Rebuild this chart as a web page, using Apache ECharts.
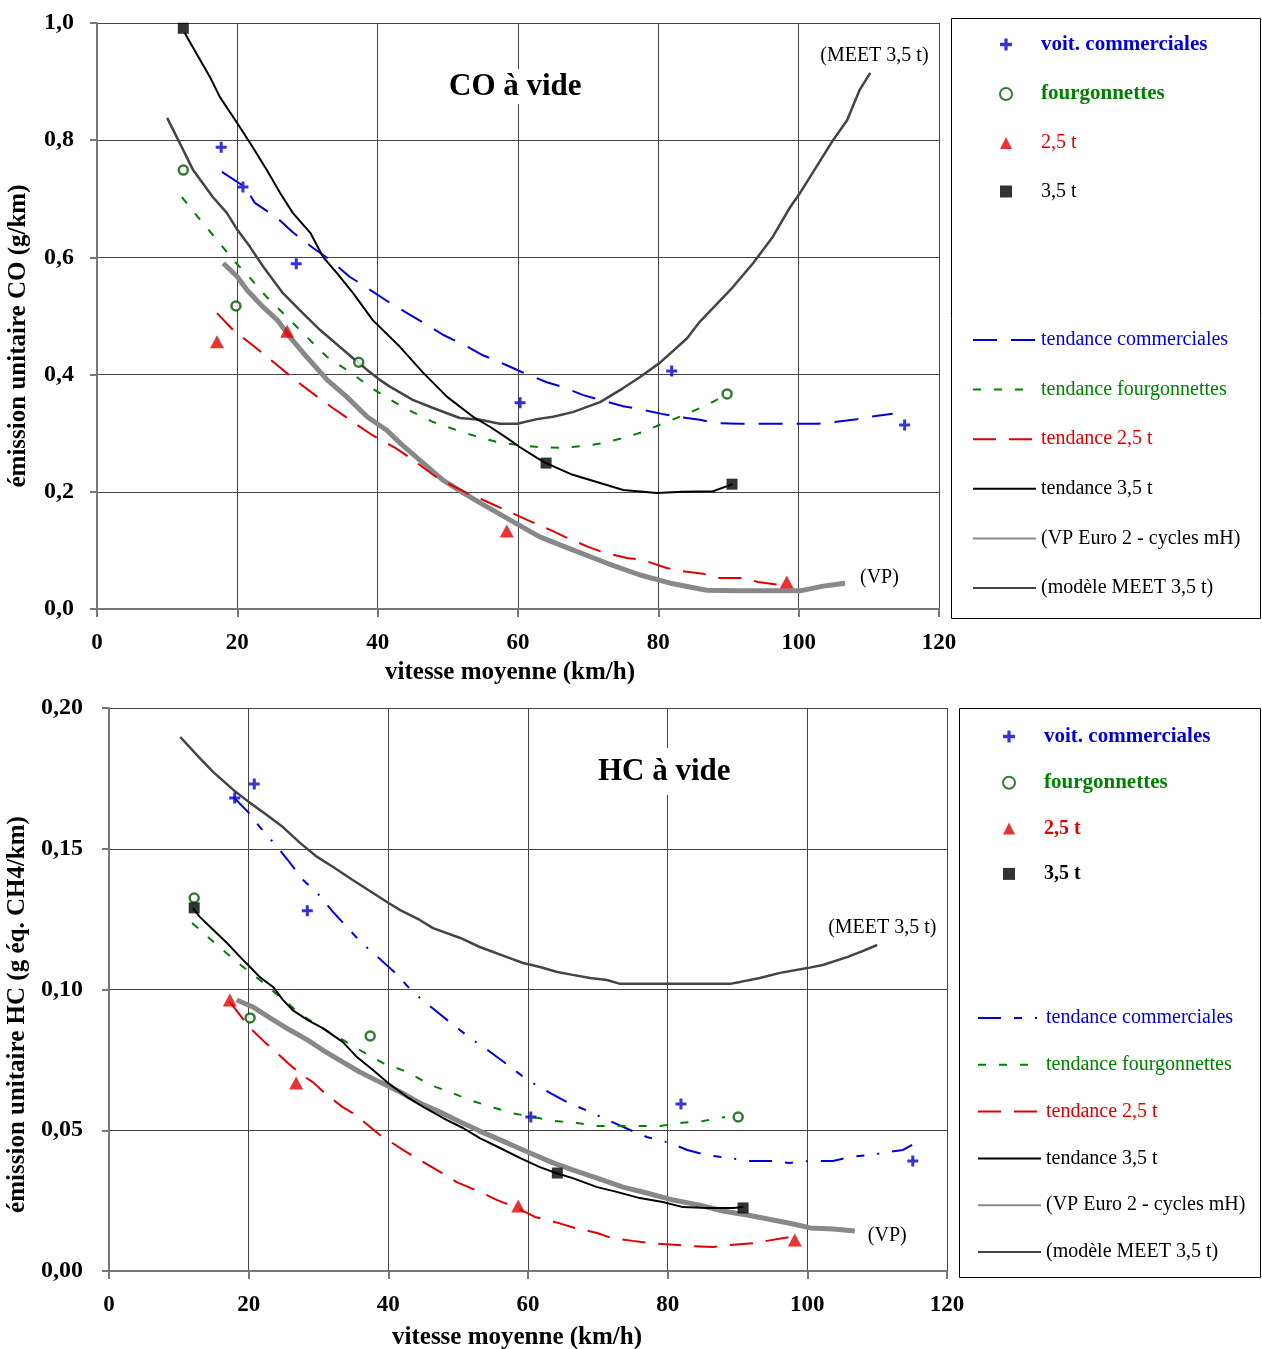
<!DOCTYPE html>
<html>
<head>
<meta charset="utf-8">
<script src="https://cdn.jsdelivr.net/npm/echarts@6/dist/echarts.min.js"></script>
<style>
  html, body { margin: 0; padding: 0; background: #fff; }
  #co { position: absolute; left: 0; top: 0; width: 1262px; height: 690px; }
  #hc { position: absolute; left: 0; top: 690px; width: 1262px; height: 659px; }
</style>
</head>
<body>
<div id="co"></div>
<div id="hc"></div>
<script>
  // ---- CO à vide : mesures (km/h, g/km)
  const coComPts = [[17.7, 0.788], [20.8, 0.72], [28.4, 0.589], [60.3, 0.352], [81.9, 0.406], [115.1, 0.314]]
  const coFourPts = [[12.3, 0.749], [19.8, 0.517], [37.3, 0.421], [89.8, 0.367]]
  const co25Pts = [[17.1, 0.456], [27.1, 0.474], [58.4, 0.133], [98.3, 0.046]]
  const co35Pts = [[12.3, 0.991], [64.0, 0.249], [90.5, 0.213]]

  // ---- CO à vide : tendances
  const coTrCom = [[17.8, 0.746], [21.1, 0.720], [22.5, 0.693], [25.7, 0.667], [27.9, 0.643], [30.8, 0.616], [33.2, 0.596], [36.0, 0.567], [38.5, 0.548], [41.8, 0.522], [44.2, 0.505], [47.0, 0.485], [49.3, 0.468], [52.9, 0.447], [55.0, 0.433], [58.4, 0.416], [60.6, 0.404], [64.1, 0.387], [66.3, 0.379], [69.3, 0.365], [71.7, 0.357], [75.0, 0.346], [77.4, 0.341], [80.5, 0.333], [82.7, 0.328], [85.9, 0.323], [88.4, 0.317], [91.6, 0.316], [102.6, 0.316], [104.9, 0.319], [108.3, 0.324], [110.2, 0.328], [113.4, 0.333]]
  const coTrFour = [[12.1, 0.703], [14.7, 0.664], [17.1, 0.630], [19.4, 0.596], [21.8, 0.565], [24.2, 0.532], [27.1, 0.498], [29.9, 0.464], [32.8, 0.430], [36.1, 0.404], [38.9, 0.379], [41.8, 0.357], [45.0, 0.336], [47.9, 0.319], [51.3, 0.305], [54.2, 0.294], [57.0, 0.285], [59.9, 0.280], [63.1, 0.276], [66.0, 0.275], [69.3, 0.278], [72.1, 0.283], [75.0, 0.292], [77.8, 0.302], [80.7, 0.317], [84.1, 0.333], [86.9, 0.348], [88.8, 0.360]]
  const coTr25 = [[17.1, 0.505], [19.4, 0.476], [22.5, 0.447], [25.7, 0.416], [27.9, 0.394], [31.4, 0.362], [33.6, 0.343], [37.1, 0.314], [39.2, 0.297], [42.5, 0.275], [44.6, 0.258], [47.9, 0.229], [49.9, 0.215], [52.7, 0.198], [55.6, 0.183], [59.1, 0.164], [61.3, 0.152], [64.6, 0.135], [66.7, 0.123], [70.0, 0.106], [72.1, 0.097], [75.5, 0.087], [77.7, 0.084], [81.2, 0.070], [83.1, 0.065], [86.4, 0.060], [88.5, 0.053], [92.1, 0.053], [94.2, 0.046], [97.3, 0.041]]
  const coTr35 = [[12.5, 0.983], [14.7, 0.937], [16.1, 0.908], [17.5, 0.874], [20.0, 0.829], [22.2, 0.788], [24.2, 0.749], [26.1, 0.710], [27.9, 0.676], [30.4, 0.642], [32.2, 0.601], [34.2, 0.573], [36.5, 0.539], [39.3, 0.493], [43.2, 0.447], [46.5, 0.403], [49.9, 0.362], [53.6, 0.328], [56.0, 0.311], [58.4, 0.292], [60.3, 0.276], [62.7, 0.258], [64.0, 0.249], [67.8, 0.229], [71.7, 0.215], [75.0, 0.203], [79.8, 0.198], [83.5, 0.200], [87.8, 0.201], [90.6, 0.213]]
  const coVP = [[18.0, 0.590], [20.0, 0.567], [21.4, 0.544], [23.7, 0.515], [25.7, 0.493], [27.5, 0.464], [29.9, 0.430], [32.8, 0.391], [35.6, 0.362], [38.5, 0.328], [41.3, 0.305], [43.2, 0.283], [46.0, 0.254], [49.3, 0.220], [52.2, 0.198], [54.6, 0.181], [58.4, 0.155], [63.1, 0.123], [67.8, 0.101], [72.7, 0.078], [77.4, 0.058], [82.1, 0.043], [86.9, 0.032], [91.6, 0.031], [100.2, 0.031], [103.5, 0.039], [106.6, 0.044]]
  const coMeet = [[10.0, 0.838], [11.8, 0.795], [13.7, 0.749], [16.5, 0.703], [18.5, 0.676], [20.0, 0.647], [21.8, 0.618], [23.7, 0.584], [26.5, 0.539], [28.9, 0.510], [31.8, 0.476], [36.5, 0.428], [38.5, 0.408], [40.3, 0.391], [41.8, 0.379], [45.0, 0.357], [47.9, 0.343], [51.7, 0.326], [54.6, 0.323], [57.4, 0.316], [59.9, 0.316], [62.7, 0.324], [65.0, 0.328], [67.8, 0.336], [71.7, 0.353], [75.0, 0.377], [77.4, 0.396], [80.2, 0.420], [84.1, 0.462], [85.9, 0.490], [90.6, 0.549], [93.5, 0.590], [96.3, 0.635], [98.8, 0.686], [100.2, 0.710], [104.9, 0.800], [106.9, 0.834], [108.7, 0.886], [110.2, 0.915]]

  // ---- HC à vide : mesures (km/h, g éq. CH4/km)
  const hcComPts = [[18.0, 0.168], [20.8, 0.173], [28.4, 0.128], [60.4, 0.0547], [81.9, 0.0593], [115.1, 0.0391]]
  const hcFourPts = [[12.2, 0.1325], [20.2, 0.0899], [37.4, 0.0835], [90.1, 0.0547]]
  const hc25Pts = [[17.3, 0.0963], [26.8, 0.0668], [58.6, 0.0231], [98.2, 0.0110]]
  const hc35Pts = [[12.2, 0.129], [64.2, 0.0348], [90.8, 0.0224]]

  // ---- HC à vide : tendances
  const hcTrCom = [[17.8, 0.1684], [19.9, 0.1631], [21.6, 0.1577], [24.1, 0.1506], [25.6, 0.1460], [27.8, 0.1389], [29.8, 0.1343], [32.1, 0.1275], [34.2, 0.1218], [36.2, 0.1165], [38.5, 0.1115], [41.0, 0.1059], [43.5, 0.0991], [46.3, 0.0934], [48.4, 0.0892], [51.7, 0.0828], [54.6, 0.0778], [57.1, 0.0732], [59.9, 0.0679], [63.2, 0.0632], [65.6, 0.0600], [68.9, 0.0565], [70.7, 0.0544], [74.6, 0.0501], [77.0, 0.0476], [80.3, 0.0455], [82.8, 0.0430], [85.6, 0.0412], [88.9, 0.0401], [91.8, 0.0391], [94.7, 0.0391], [97.5, 0.0384], [100.4, 0.0391], [103.7, 0.0391], [106.1, 0.0405], [109.0, 0.0412], [111.8, 0.0423], [113.7, 0.0430], [115.0, 0.0448]]
  const hcTrFour = [[11.9, 0.1236], [15.5, 0.1158], [18.3, 0.1098], [21.6, 0.1034], [24.5, 0.0973], [27.4, 0.0913], [30.2, 0.0867], [33.5, 0.0821], [36.4, 0.0778], [39.2, 0.0739], [42.7, 0.0707], [46.0, 0.0661], [48.8, 0.0636], [51.7, 0.0607], [54.8, 0.0583], [57.7, 0.0561], [60.7, 0.0547], [63.6, 0.0533], [67.0, 0.0526], [69.9, 0.0515], [76.0, 0.0515], [78.9, 0.0515], [81.8, 0.0526], [85.1, 0.0533], [88.2, 0.0547]]
  const hcTr25 = [[17.3, 0.0956], [20.2, 0.0863], [22.3, 0.0813], [24.1, 0.0774], [25.6, 0.0739], [27.6, 0.0696], [29.2, 0.0671], [30.9, 0.0632], [33.4, 0.0583], [34.9, 0.0561], [36.7, 0.0526], [38.8, 0.0483], [42.1, 0.0430], [44.5, 0.0394], [47.7, 0.0348], [49.8, 0.0316], [53.1, 0.0281], [55.6, 0.0252], [58.4, 0.0224], [61.0, 0.0192], [64.3, 0.0171], [66.7, 0.0153], [69.9, 0.0135], [72.0, 0.0117], [75.0, 0.0107], [77.5, 0.0099], [83.2, 0.0089], [86.5, 0.0085], [88.9, 0.0092], [92.2, 0.0099], [94.2, 0.0107], [97.5, 0.0121]]
  const hcTr35 = [[12.0, 0.1290], [13.0, 0.1258], [14.5, 0.1222], [16.9, 0.1165], [18.8, 0.1115], [20.2, 0.1080], [21.6, 0.1044], [23.5, 0.1009], [24.9, 0.0963], [26.3, 0.0927], [28.4, 0.0892], [30.6, 0.0863], [33.5, 0.0813], [35.5, 0.0760], [37.8, 0.0714], [39.8, 0.0671], [42.7, 0.0618], [45.0, 0.0583], [48.4, 0.0536], [50.7, 0.0508], [53.1, 0.0472], [56.0, 0.0437], [58.9, 0.0401], [61.7, 0.0369], [64.0, 0.0348], [66.4, 0.0330], [69.9, 0.0298], [72.7, 0.0281], [76.0, 0.0259], [79.3, 0.0245], [82.2, 0.0227], [85.6, 0.0224], [89.4, 0.0224], [90.8, 0.0227]]
  const hcVP = [[18.3, 0.0963], [20.6, 0.0938], [23.5, 0.0892], [25.9, 0.0856], [28.4, 0.0821], [30.6, 0.0785], [33.5, 0.0742], [35.9, 0.0707], [38.8, 0.0671], [41.7, 0.0636], [44.5, 0.0597], [47.4, 0.0565], [50.3, 0.0529], [53.1, 0.0497], [57.0, 0.0455], [60.3, 0.0419], [63.6, 0.0384], [66.4, 0.0359], [69.9, 0.0330], [73.6, 0.0298], [77.0, 0.0277], [80.8, 0.0252], [84.6, 0.0234], [87.9, 0.0213], [91.4, 0.0199], [95.1, 0.0181], [98.0, 0.0167], [100.4, 0.0153], [103.7, 0.0149], [106.8, 0.0142]]
  const hcMeet = [[10.2, 0.1897], [13.0, 0.1822], [14.9, 0.1773], [17.8, 0.1709], [20.2, 0.1663], [22.6, 0.1620], [24.9, 0.1577], [27.4, 0.1520], [29.8, 0.1471], [32.1, 0.1435], [34.9, 0.1389], [37.8, 0.1343], [39.8, 0.1311], [41.7, 0.1282], [44.5, 0.1247], [46.4, 0.1218], [50.3, 0.1183], [53.1, 0.1151], [57.0, 0.1115], [59.3, 0.1094], [61.7, 0.1080], [64.2, 0.1062], [66.4, 0.1052], [68.9, 0.1041], [71.3, 0.1034], [73.2, 0.1020], [80.8, 0.1020], [88.9, 0.1020], [90.4, 0.1027], [93.2, 0.1041], [96.1, 0.1059], [100.0, 0.1076], [102.2, 0.1087], [105.7, 0.1115], [108.0, 0.1137], [110.0, 0.1158]]

  const xTicks = [0, 20, 40, 60, 80, 100, 120]

  const FONT = 'Liberation Serif'
  const BLUE = '#0000dd'
  const GREEN = '#008000'
  const DKGREEN = '#005c00'
  const RED = '#e00000'
  const PLUS = 'path://M4,0h3v4h4v3h-4v4h-3v-4h-4v-3h4z'

  function lineSerie (name, data, color, width, type) {
    return {
      name: name,
      type: 'line',
      data: data,
      symbol: 'none',
      smooth: false,
      lineStyle: { color: color, width: width, type: type },
      itemStyle: { color: color }
    }
  }

  function buildOption (c) {
    return {
      animation: false,
      backgroundColor: '#fff',
      title: {
        text: c.title,
        left: c.titlePos[0],
        top: c.titlePos[1],
        backgroundColor: '#fff',
        padding: c.titlePad,
        textStyle: { fontFamily: FONT, fontSize: 31, fontWeight: 'bold', color: '#000' }
      },
      grid: Object.assign({ containLabel: false, outerBoundsMode: 'none' }, c.grid),
      xAxis: {
        type: 'value',
        min: xTicks[0],
        max: xTicks[xTicks.length - 1],
        interval: 20,
        name: 'vitesse moyenne (km/h)',
        nameLocation: 'middle',
        nameGap: c.xNameGap,
        nameTextStyle: { fontFamily: FONT, fontSize: 25, fontWeight: 'bold', color: '#000', padding: c.xNamePad },
        axisLine: { lineStyle: { color: '#777', width: 2 } },
        axisTick: { show: true, length: 8, lineStyle: { color: '#777', width: 2 } },
        axisLabel: { fontFamily: FONT, fontSize: 23, fontWeight: 'bold', color: '#000', margin: 23 },
        splitLine: { show: true, lineStyle: { color: '#444', width: 1 } }
      },
      yAxis: {
        type: 'value',
        min: 0,
        max: c.yMax,
        interval: c.yStep,
        name: c.yName,
        nameLocation: 'middle',
        nameGap: c.yNameGap,
        nameTextStyle: { fontFamily: FONT, fontSize: 25, fontWeight: 'bold', color: '#000', padding: c.yNamePad },
        axisLine: { show: true, lineStyle: { color: '#777', width: 2 } },
        axisTick: { show: true, length: 7, lineStyle: { color: '#777', width: 2 } },
        axisLabel: {
          fontFamily: FONT, fontSize: 24, fontWeight: 'bold', color: '#000', margin: c.yLabelMargin,
          formatter: v => v.toFixed(c.yDigits).replace('.', ',')
        },
        splitLine: { show: true, lineStyle: { color: '#444', width: 1 } }
      },
      legend: [
        {
          orient: 'vertical',
          left: c.legPts[0],
          top: c.legPts[1],
          itemWidth: 12,
          itemHeight: 12,
          itemGap: c.legPts[2],
          padding: 0,
          selectedMode: false,
          textStyle: { fontFamily: FONT, fontSize: 20, lineHeight: 20, padding: [0, 0, 0, 24] },
          data: [
            { name: 'voit. commerciales', textStyle: { color: BLUE, fontWeight: 'bold', fontSize: 21 } },
            { name: 'fourgonnettes', textStyle: { color: GREEN, fontWeight: 'bold', fontSize: 21 } },
            { name: '2,5 t', textStyle: { color: RED, fontWeight: c.boldWeights ? 'bold' : 'normal' } },
            { name: '3,5 t', textStyle: { color: '#000', fontWeight: c.boldWeights ? 'bold' : 'normal' } }
          ]
        },
        {
          orient: 'vertical',
          left: c.legLines[0],
          top: c.legLines[1],
          itemWidth: 63,
          itemHeight: 14,
          itemGap: c.legLines[2],
          padding: 0,
          selectedMode: false,
          // line samples only, no point marker
          itemStyle: { color: 'rgba(0,0,0,0)', borderWidth: 0, opacity: 0 },
          textStyle: { fontFamily: FONT, fontSize: 20, lineHeight: 20 },
          data: [
            { name: 'tendance commerciales', textStyle: { color: BLUE } },
            { name: 'tendance fourgonnettes', textStyle: { color: GREEN } },
            { name: 'tendance 2,5 t', textStyle: { color: RED } },
            { name: 'tendance 3,5 t', textStyle: { color: '#000' } },
            { name: '(VP Euro 2 - cycles mH)', textStyle: { color: '#000' } },
            { name: '(modèle MEET 3,5 t)', textStyle: { color: '#000' } }
          ]
        }
      ],
      graphic: [{
        type: 'rect',
        shape: c.box,
        style: { fill: 'none', stroke: '#000', lineWidth: 1 }
      }],
      series: [
        Object.assign(lineSerie('(VP Euro 2 - cycles mH)', c.vp, '#888', 5), {
          endLabel: { show: true, formatter: '(VP)', offset: c.vpLabel, fontFamily: FONT, fontSize: 20, color: '#000' }
        }),
        Object.assign(lineSerie('(modèle MEET 3,5 t)', c.meet, '#444', 2.5), {
          endLabel: { show: true, formatter: '(MEET 3,5 t)', offset: c.meetLabel, fontFamily: FONT, fontSize: 20, color: '#000' }
        }),
        lineSerie('tendance commerciales', c.trCom, BLUE, 2, c.comDash),
        lineSerie('tendance fourgonnettes', c.trFour, GREEN, 2, [8, 13]),
        lineSerie('tendance 2,5 t', c.tr25, RED, 2, [23, 13]),
        lineSerie('tendance 3,5 t', c.tr35, '#000', 2, 'solid'),
        {
          name: 'voit. commerciales', type: 'scatter', data: c.comPts, z: 5,
          symbol: PLUS, symbolSize: 11, itemStyle: { color: '#0000cc' }
        },
        {
          name: 'fourgonnettes', type: 'scatter', data: c.fourPts, z: 5,
          symbol: 'circle', symbolSize: 9, itemStyle: { color: '#fff', borderColor: DKGREEN, borderWidth: 2.5 }
        },
        {
          name: '2,5 t', type: 'scatter', data: c.p25, z: 5,
          symbol: 'triangle', symbolSize: [14, 13], itemStyle: { color: RED }
        },
        {
          name: '3,5 t', type: 'scatter', data: c.p35, z: 5,
          symbol: 'rect', symbolSize: 11, itemStyle: { color: '#000' }
        }
      ]
    }
  }

  const coChart = echarts.init(document.getElementById('co'))
  coChart.setOption(buildOption({
    title: 'CO à vide',
    titlePos: [444, 69],
    titlePad: [2, 5],
    grid: { left: 97, top: 23, right: 323, bottom: 81 },
    xNameGap: 49,
    xNamePad: [0, 16, 0, 0],
    yMax: 1,
    yStep: 0.2,
    yDigits: 1,
    yName: 'émission unitaire CO (g/km)',
    yNameGap: 66,
    yNamePad: [0, 40, 0, 0],
    yLabelMargin: 23,
    boldWeights: false,
    legPts: [999, 34, 28.5],
    legLines: [972, 330, 29.6],
    box: { x: 951.5, y: 18.5, width: 309, height: 600 },
    comDash: [24, 14],
    vpLabel: [7, -5],
    meetLabel: [-58, -17],
    comPts: coComPts, fourPts: coFourPts, p25: co25Pts, p35: co35Pts,
    trCom: coTrCom, trFour: coTrFour, tr25: coTr25, tr35: coTr35, vp: coVP, meet: coMeet
  }))

  const hcChart = echarts.init(document.getElementById('hc'))
  hcChart.setOption(buildOption({
    title: 'HC à vide',
    titlePos: [593, 58],
    titlePad: [8, 5],
    grid: { left: 109, top: 18, right: 315, bottom: 78 },
    xNameGap: 54,
    xNamePad: [0, 22, 0, 0],
    yMax: 0.2,
    yStep: 0.05,
    yDigits: 2,
    yName: 'émission unitaire HC (g éq. CH4/km)',
    yNameGap: 78,
    yNamePad: [0, 50, 0, 0],
    yLabelMargin: 26,
    boldWeights: true,
    legPts: [1002, 36, 25.3],
    legLines: [977, 318, 26.8],
    box: { x: 959.5, y: 18.5, width: 301, height: 569 },
    comDash: [23, 13, 8, 13, 2, 13],
    vpLabel: [5, 5],
    meetLabel: [-57, -17],
    comPts: hcComPts, fourPts: hcFourPts, p25: hc25Pts, p35: hc35Pts,
    trCom: hcTrCom, trFour: hcTrFour, tr25: hcTr25, tr35: hcTr35, vp: hcVP, meet: hcMeet
  }))

  window.addEventListener('resize', () => { coChart.resize(); hcChart.resize() })
</script>
</body>
</html>
